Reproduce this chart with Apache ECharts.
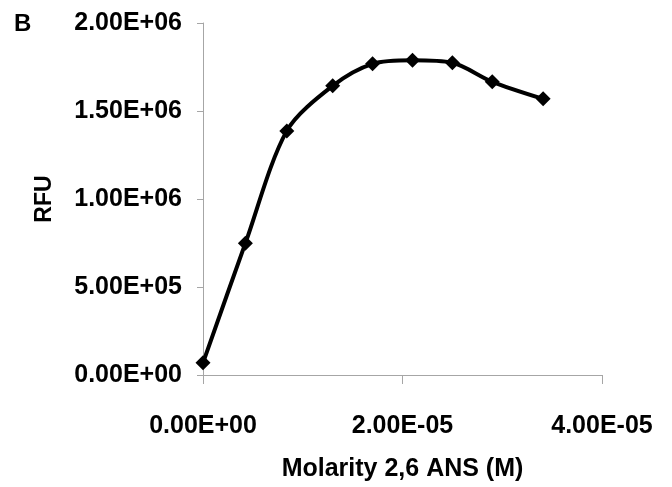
<!DOCTYPE html>
<html lang="en">

<head>
    <meta charset="UTF-8">
    <title>ANS</title>
    <style>
        html,
        body,
        #chart {
            margin: 0;
            padding: 0;
            overflow: hidden;
            width: 100%;
            height: 100%;
            background: #fff;
        }
    </style>
</head>

<body>
    <div id="chart"></div>
    <script src="https://cdn.jsdelivr.net/npm/echarts@6/dist/echarts.min.js"></script>
    <script>
        // molarity of 2,6 ANS (M)
        var molarity = [0, 4.25e-6, 8.4e-6, 1.3e-5, 1.7e-5, 2.1e-5, 2.5e-5, 2.9e-5, 3.41e-5];
        // fluorescence
        var rfu = [69000, 749000, 1387000, 1643000, 1768000, 1788000, 1774000, 1666000, 1569000];

        var font = '"Liberation Sans", Arial, sans-serif';

        function sci(v) {
            var s = Number(v).toExponential(2).split('e');
            var exp = parseInt(s[1], 10);
            var sign = exp < 0 ? '-' : '+';
            exp = Math.abs(exp);
            return s[0] + 'E' + sign + (exp < 10 ? '0' : '') + exp;
        }

        var chart = echarts.init(document.getElementById('chart'));
        var label = { color: '#000', fontFamily: font, fontWeight: 'bold', fontSize: 25, formatter: sci };
        var nameStyle = { color: '#000', fontFamily: font, fontWeight: 'bold', fontSize: 25 };

        chart.setOption({
            animation: false,
            grid: { left: 203, top: 23, right: 70, bottom: 105 },
            graphic: [{
                type: 'text',
                left: 14,
                top: 12,
                style: { text: 'B', fill: '#000', font: 'bold 24px ' + font }
            }],
            xAxis: {
                type: 'value',
                min: 0,
                max: 4e-5,
                interval: 2e-5,
                name: 'Molarity 2,6 ANS (M)',
                nameLocation: 'middle',
                nameGap: 82,
                nameTextStyle: nameStyle,
                axisLine: { lineStyle: { color: '#a6a6a6', width: 1 } },
                axisTick: { show: true, length: 9, lineStyle: { color: '#a6a6a6' } },
                axisLabel: Object.assign({ margin: 39 }, label),
                splitLine: { show: false }
            },
            yAxis: {
                type: 'value',
                min: 0,
                max: 2e6,
                interval: 5e5,
                name: 'RFU',
                nameLocation: 'middle',
                nameGap: 147,
                nameTextStyle: { color: '#000', fontFamily: font, fontWeight: 'bold', fontSize: 23 },
                axisLine: { show: true, lineStyle: { color: '#a6a6a6', width: 1 } },
                axisTick: { show: true, length: 6, lineStyle: { color: '#a6a6a6' } },
                axisLabel: Object.assign({ margin: 21, padding: [6, 0, 0, 0] }, label),
                splitLine: { show: false }
            },
            series: [{
                type: 'line',
                data: molarity.map(function (x, i) { return [x, rfu[i]]; }),
                smooth: 0.3,
                symbol: 'diamond',
                symbolSize: 15,
                showAllSymbol: true,
                lineStyle: { color: '#000', width: 4 },
                itemStyle: { color: '#000' }
            }]
        });
    </script>
</body>

</html>
